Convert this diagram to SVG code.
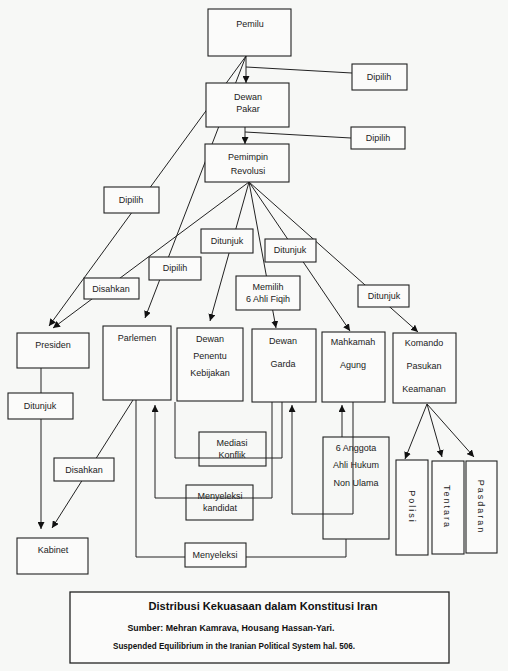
<svg xmlns="http://www.w3.org/2000/svg" width="508" height="671" viewBox="0 0 508 671">
<defs>
<marker id="ah" viewBox="0 0 10 10" refX="10" refY="5" markerWidth="7" markerHeight="7" markerUnits="userSpaceOnUse" orient="auto">
<path d="M0,0 L10,5 L0,10 z" fill="#111"/>
</marker>
<style>
.n{fill:#fbfbfa;stroke:#222;stroke-width:1.1}
.o{fill:none;stroke:#222;stroke-width:1.1}
.t{font-family:"Liberation Sans",Arial,sans-serif;font-size:9px;fill:#222;text-anchor:middle}
.c{fill:none;stroke:#222;stroke-width:1}
.a{fill:none;stroke:#222;stroke-width:1;marker-end:url(#ah)}
.cap{font-family:"Liberation Sans",Arial,sans-serif;font-weight:bold;fill:#111;text-anchor:middle}
.v{font-family:"Liberation Sans",Arial,sans-serif;font-size:9px;fill:#222;text-anchor:middle;letter-spacing:2px}
</style>
</defs>
<rect width="508" height="671" fill="#f7f8f6"/>

<g id="connectors">
<line class="a" x1="246" y1="56" x2="246" y2="83"/>
<line class="c" x1="246" y1="67" x2="352" y2="73"/>
<line class="a" x1="245" y1="127" x2="245" y2="144"/>
<line class="c" x1="245" y1="132" x2="351" y2="138"/>
<line class="a" x1="246" y1="56" x2="49" y2="326"/>
<line class="a" x1="246" y1="56" x2="145" y2="318"/>
<line class="a" x1="249" y1="182" x2="53" y2="328"/>
<line class="a" x1="249" y1="182" x2="210" y2="321"/>
<line class="a" x1="249" y1="182" x2="276" y2="328"/>
<line class="a" x1="249" y1="182" x2="350" y2="331"/>
<line class="a" x1="249" y1="182" x2="418" y2="332"/>
<line class="a" x1="41" y1="368" x2="41" y2="529"/>
<line class="a" x1="133" y1="400" x2="52" y2="528"/>
<polyline class="c" points="175,402 175,458 282,458 282,402"/>
<polyline class="a" points="272,402 272,498 155,498 155,405"/>
<polyline class="a" points="353,402 353,514 292,514 292,405"/>
<line class="a" x1="342" y1="437" x2="342" y2="405"/>
<polyline class="c" points="136,400 136,557 346,557 346,539"/>
<line class="a" x1="427" y1="404" x2="405" y2="459"/>
<line class="a" x1="427" y1="404" x2="442" y2="457"/>
<line class="a" x1="427" y1="404" x2="474" y2="457"/>
</g>

<g id="pemilu"><rect class="n" x="208" y="9" width="83" height="47"/><text class="t" x="250" y="27">Pemilu</text></g>
<g id="dewan-pakar"><rect class="n" x="206" y="83" width="83" height="44"/><text class="t" x="248" y="100">Dewan</text><text class="t" x="248" y="112">Pakar</text></g>
<g id="pemimpin"><rect class="n" x="205" y="144" width="84" height="38"/><text class="t" x="248" y="160">Pemimpin</text><text class="t" x="248" y="174">Revolusi</text></g>

<g id="lbl-dipilih1"><rect class="n" x="352" y="64" width="55" height="26"/><text class="t" x="379" y="80">Dipilih</text></g>
<g id="lbl-dipilih2"><rect class="n" x="351" y="127" width="54" height="22"/><text class="t" x="378" y="141">Dipilih</text></g>
<g id="lbl-dipilih3"><rect class="n" x="104" y="187" width="55" height="26"/><text class="t" x="131" y="203">Dipilih</text></g>
<g id="lbl-ditunjuk1"><rect class="n" x="201" y="229" width="52" height="24"/><text class="t" x="227" y="244">Ditunjuk</text></g>
<g id="lbl-ditunjuk2"><rect class="n" x="265" y="239" width="51" height="23"/><text class="t" x="290" y="253">Ditunjuk</text></g>
<g id="lbl-dipilih4"><rect class="n" x="149" y="257" width="52" height="23"/><text class="t" x="175" y="271">Dipilih</text></g>
<g id="lbl-disahkan1"><rect class="n" x="84" y="278" width="55" height="21"/><text class="t" x="111" y="292">Disahkan</text></g>
<g id="lbl-memilih"><rect class="n" x="236" y="276" width="64" height="34"/><text class="t" x="268" y="290">Memilih</text><text class="t" x="268" y="302">6 Ahli Fiqih</text></g>
<g id="lbl-ditunjuk3"><rect class="n" x="358" y="285" width="51" height="22"/><text class="t" x="384" y="299">Ditunjuk</text></g>

<g id="presiden"><rect class="n" x="17" y="333" width="72" height="35"/><text class="t" x="53" y="348">Presiden</text></g>
<g id="parlemen"><rect class="n" x="103" y="326" width="68" height="74"/><text class="t" x="137" y="341">Parlemen</text></g>
<g id="dewan-penentu"><rect class="n" x="177" y="328" width="66" height="73"/><text class="t" x="210" y="342">Dewan</text><text class="t" x="210" y="359">Penentu</text><text class="t" x="210" y="376">Kebijakan</text></g>
<g id="dewan-garda"><rect class="n" x="252" y="329" width="64" height="73"/><text class="t" x="283" y="344">Dewan</text><text class="t" x="283" y="367">Garda</text></g>
<g id="mahkamah"><rect class="n" x="322" y="332" width="63" height="70"/><text class="t" x="353" y="345">Mahkamah</text><text class="t" x="353" y="368">Agung</text></g>
<g id="komando"><rect class="n" x="393" y="333" width="63" height="70"/><text class="t" x="424" y="346">Komando</text><text class="t" x="424" y="369">Pasukan</text><text class="t" x="424" y="392">Keamanan</text></g>

<g id="lbl-ditunjuk4"><rect class="n" x="8" y="393" width="65" height="26"/><text class="t" x="40" y="409">Ditunjuk</text></g>
<g id="lbl-disahkan2"><rect class="n" x="54" y="458" width="60" height="23"/><text class="t" x="84" y="473">Disahkan</text></g>
<g id="lbl-mediasi"><rect class="o" x="199" y="432" width="67" height="34"/><text class="t" x="232" y="446">Mediasi</text><text class="t" x="232" y="458">Konflik</text></g>
<g id="lbl-menyeleksi-kandidat"><rect class="o" x="186" y="485" width="67" height="35"/><text class="t" x="220" y="499">Menyeleksi</text><text class="t" x="220" y="511">kandidat</text></g>
<g id="anggota"><rect class="o" x="323" y="437" width="66" height="102"/><text class="t" x="356" y="451">6 Anggota</text><text class="t" x="356" y="468">Ahli Hukum</text><text class="t" x="356" y="486">Non Ulama</text></g>
<g id="lbl-menyeleksi"><rect class="n" x="185" y="543" width="61" height="24"/><text class="t" x="215" y="558">Menyeleksi</text></g>
<g id="kabinet"><rect class="n" x="17" y="538" width="71" height="36"/><text class="t" x="53" y="553">Kabinet</text></g>

<g id="polisi"><rect class="n" x="396" y="460" width="32" height="95"/><text class="v" transform="translate(409,507) rotate(90)">Polisi</text></g>
<g id="tentara"><rect class="n" x="432" y="461" width="32" height="93"/><text class="v" transform="translate(444,507) rotate(90)">Tentara</text></g>
<g id="pasdaran"><rect class="n" x="466" y="461" width="31" height="92"/><text class="v" transform="translate(478,507) rotate(90)">Pasdaran</text></g>

<g id="caption">
<rect x="70" y="592" width="379" height="71" fill="#fbfbfa" stroke="#222" stroke-width="1.3"/>
<text class="cap" x="263" y="610" font-size="10.5" textLength="229" lengthAdjust="spacingAndGlyphs">Distribusi Kekuasaan dalam Konstitusi Iran</text>
<text class="cap" x="231" y="631" font-size="8.5" textLength="207" lengthAdjust="spacingAndGlyphs">Sumber: Mehran Kamrava, Housang Hassan-Yari.</text>
<text class="cap" x="234" y="649" font-size="8.5" textLength="242" lengthAdjust="spacingAndGlyphs">Suspended Equilibrium in the Iranian Political System hal. 506.</text>
</g>
</svg>
